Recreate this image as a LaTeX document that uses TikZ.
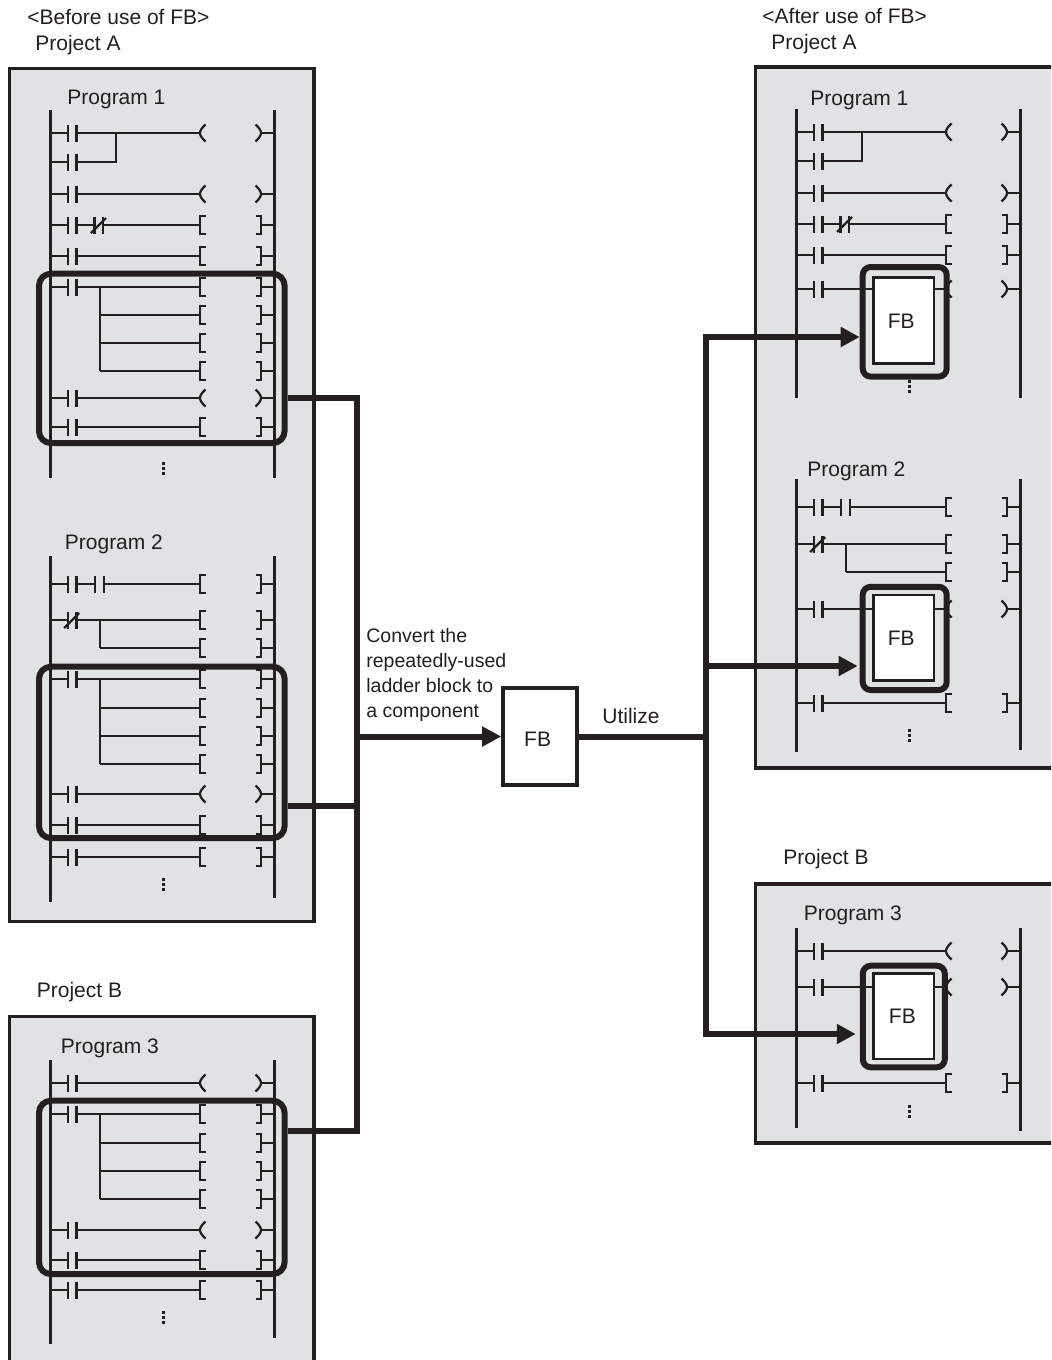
\documentclass[tikz,border=0pt]{standalone}
\usepackage{fontspec}
\setmainfont{Liberation Sans}
\usetikzlibrary{arrows.meta,positioning}
\definecolor{ink}{HTML}{231F20}
\definecolor{panelgray}{HTML}{E1E2E4}
\tikzset{
  rail/.style       = {line width=1.5pt, draw=ink},
  wire/.style       = {line width=1.1pt, draw=ink},
  moredots/.style   = {line width=1.5pt, draw=ink, dash pattern=on 1.5pt off 1pt},
  panel/.style      = {rectangle, draw=ink, fill=panelgray, line width=1.7pt,
                       inner sep=0pt, outer sep=0pt, anchor=north west},
  caption/.style    = {font=\fontsize{10.5}{12.65}\selectfont, text=ink, inner sep=0pt,
                       anchor=base west},
  ladderblock/.style= {rectangle, rounded corners=6pt, draw=ink, line width=3pt,
                       inner sep=0pt},
  fboutline/.style  = {rectangle, rounded corners=4pt, draw=ink, line width=3pt,
                       inner sep=0pt},
  fbinner/.style    = {rectangle, draw=ink, fill=white, line width=1.4pt, inner sep=0pt,
                       minimum width=30.4pt, font=\fontsize{10.5}{12.65}\selectfont,
                       text=ink},
  fbmain/.style     = {rectangle, draw=ink, fill=white, line width=1.8pt, inner sep=0pt,
                       minimum width=37pt, minimum height=48.5pt,
                       font=\fontsize{10.5}{12.65}\selectfont, text=ink},
  bus/.style        = {line width=3pt, draw=ink},
  busarrow/.style   = {bus, -{Triangle[length=9.5pt,width=9.5pt]}},
}
% ladder pieces, in px from the left rail
\newcommand{\railpair}[3]{\draw[rail] (0,#1) -- (0,#2); \draw[rail] (224,#1) -- (224,#3);}
\newcommand{\contactbars}[2]{%
  \draw[wire] (#1,#2-8.5) -- (#1,#2+8.5);
  \draw[wire] (#1+8.7,#2-8.5) -- (#1+8.7,#2+8.5);}
\newcommand{\ncslash}[2]{\draw[wire] (#1-3.5,#2+8) -- (#1+11.5,#2-7);}
\newcommand{\outcoil}[1]{%
  \draw[wire] (155,#1-8.5) .. controls (151,#1-5) and (149.5,#1-2) .. (149.5,#1)
              .. controls (149.5,#1+2) and (151,#1+5) .. (155,#1+8.5);
  \draw[wire] (205,#1-8.5) .. controls (209,#1-5) and (210.5,#1-2) .. (210.5,#1)
              .. controls (210.5,#1+2) and (209,#1+5) .. (205,#1+8.5);
  \draw[wire] (210.5,#1) -- (224,#1);}
\newcommand{\outbox}[1]{%
  \draw[wire] (155,#1-9) -- (149.5,#1-9) -- (149.5,#1+9) -- (155,#1+9);
  \draw[wire] (205,#1-9) -- (210.5,#1-9) -- (210.5,#1+9) -- (205,#1+9);
  \draw[wire] (210.5,#1) -- (224,#1);}
\newcommand{\frontwire}[1]{%
  \draw[wire] (0,#1) -- (17.2,#1);
  \contactbars{17.2}{#1}}
\newcommand{\coilrung}[1]{\frontwire{#1}\draw[wire] (25.9,#1) -- (149.5,#1);\outcoil{#1}}
\newcommand{\boxrung}[1]{\frontwire{#1}\draw[wire] (25.9,#1) -- (149.5,#1);\outbox{#1}}
\newcommand{\branchrung}[1]{\draw[wire] (49.8,#1) -- (149.5,#1);\outbox{#1}}
\newcommand{\repeatedrungs}[6]{%
  \boxrung{#1}\branchrung{#2}\branchrung{#3}\branchrung{#4}
  \draw[wire] (49.8,#1) -- (49.8,#4);
  \coilrung{#5}\boxrung{#6}}
\newcommand{\topbranch}[2]{% contact rung with a parallel contact under it
  \coilrung{#1}
  \frontwire{#2}
  \draw[wire] (25.9,#2) -- (65.5,#2) -- (65.5,#1);}
\newcommand{\ncrung}[1]{% series contact and n.c. contact
  \frontwire{#1}
  \draw[wire] (25.9,#1) -- (44,#1);
  \contactbars{44}{#1}
  \ncslash{44}{#1}
  \draw[wire] (52.7,#1) -- (149.5,#1);\outbox{#1}}
\newcommand{\serialrung}[1]{% two contacts in series
  \frontwire{#1}
  \draw[wire] (25.9,#1) -- (44.5,#1);
  \contactbars{44.5}{#1}
  \draw[wire] (53.2,#1) -- (149.5,#1);\outbox{#1}}
\newcommand{\ncbranch}[2]{% n.c. contact with one branch
  \frontwire{#1}\ncslash{17.2}{#1}
  \draw[wire] (25.9,#1) -- (149.5,#1);\outbox{#1}
  \branchrung{#2}
  \draw[wire] (49.8,#1) -- (49.8,#2);}
\newcommand{\moremark}[1]{\draw[moredots] (112.5,#1-6.5) -- (112.5,#1+6.5);}
\begin{document}
\begin{tikzpicture}[x=0.5pt,y=-0.5pt]
  \path[use as bounding box,clip] (0,0) rectangle (1051,1360);

  % panels
  \node[panel,minimum width=152.2pt,minimum height=426.5pt] (panelBeforeA) at (9.5,68.5) {};
  \node[panel,minimum width=152.2pt,minimum height=190pt]   (panelBeforeB) at (9.5,1016.5) {};
  \node[panel,minimum width=170pt,minimum height=350.5pt]   (panelAfterA)  at (755.5,67) {};
  \node[panel,minimum width=170pt,minimum height=129.5pt]   (panelAfterB)  at (755.5,884) {};

  % before use of FB
  \node[caption] (titleBefore)    at (27,25)   {<Before use of FB>};
  \node[caption] (projBeforeA)    at (35,50)   {Project A};
  \node[caption] (progBeforeOne)  at (67,104)  {Program 1};
  \node[caption] (progBeforeTwo)  at (64.5,549) {Program 2};
  \node[caption] (projBeforeB)    at (36.5,997) {Project B};
  \node[caption] (progBeforeThree) at (60.5,1053) {Program 3};

  \begin{scope}[shift={(50.5,0)}]
    \railpair{110}{478}{478}
    \topbranch{133}{162}
    \coilrung{194}
    \ncrung{225}
    \boxrung{256}
    \repeatedrungs{287}{315}{343}{371}{398}{427}
    \moremark{468}

    \railpair{556}{902}{898}
    \serialrung{584}
    \ncbranch{620}{648}
    \repeatedrungs{679}{708}{736}{764}{794}{825}
    \boxrung{857}
    \moremark{884}

    \railpair{1060}{1344}{1338}
    \coilrung{1083}
    \repeatedrungs{1114}{1143}{1171}{1199}{1230}{1260}
    \boxrung{1290}
    \moremark{1317}
  \end{scope}

  \node[ladderblock,minimum width=122.8pt,minimum height=84.7pt]  (blockOne)   at (161.8,358.4) {};
  \node[ladderblock,minimum width=122.8pt,minimum height=85.7pt]  (blockTwo)   at (161.8,752.4) {};
  \node[ladderblock,minimum width=122.8pt,minimum height=86.7pt]  (blockThree) at (161.8,1187.4) {};

  % after use of FB
  \node[caption] (titleAfter)    at (762,24)   {<After use of FB>};
  \node[caption] (projAfterA)    at (771,49)   {Project A};
  \node[caption] (progAfterOne)  at (810,105)  {Program 1};
  \node[caption] (progAfterTwo)  at (807,476)  {Program 2};
  \node[caption] (projAfterB)    at (783,864)  {Project B};
  \node[caption] (progAfterThree) at (803.5,920) {Program 3};

  \begin{scope}[shift={(796.5,0)}]
    \railpair{109}{398}{398}
    \topbranch{132}{161}
    \coilrung{193}
    \ncrung{224}
    \boxrung{255}
    \coilrung{289}
    \moremark{386}

    \railpair{479}{752}{750}
    \serialrung{507}
    \ncbranch{544}{572}
    \coilrung{609}
    \boxrung{703}
    \moremark{735}

    \railpair{928}{1128}{1131}
    \coilrung{951}
    \coilrung{987}
    \boxrung{1083}
    \moremark{1111}
  \end{scope}

  \node[fboutline,minimum width=42pt,minimum height=54.8pt] (outerOne)   at (904.7,321.8) {};
  \node[fboutline,minimum width=42pt,minimum height=51.6pt] (outerTwo)   at (904.7,638.4) {};
  \node[fboutline,minimum width=41pt,minimum height=50.8pt] (outerThree) at (903.8,1016.5) {};
  \node[fbinner,minimum height=43pt,
        label={[name=fbTextOne,text=ink,font=\fontsize{10.5}{12.65}\selectfont,xshift=-1.2pt]center:FB}]
        (fbOne) at (903.6,320.8) {};
  \node[fbinner,minimum height=42.8pt,
        label={[name=fbTextTwo,text=ink,font=\fontsize{10.5}{12.65}\selectfont,xshift=-1.2pt]center:FB}]
        (fbTwo) at (903.6,637.8) {};
  \node[fbinner,minimum height=42.8pt,
        label={[name=fbTextThree,text=ink,font=\fontsize{10.5}{12.65}\selectfont,xshift=-.6pt]center:FB}]
        (fbThree) at (903.6,1016.2) {};

  % centre
  \node[fbmain,label={[name=fbMainText,text=ink,font=\fontsize{10.5}{12.65}\selectfont,xshift=-1.2pt,yshift=-1.2pt]center:FB}]
        (fbMain) at (540,736.5) {};
  \node[caption,anchor=west,align=left,font=\fontsize{9.75}{12.65}\selectfont] (convertNote) at (366,675)
        {Convert the\\repeatedly-used\\ladder block to\\a component};
  \node[caption] (utilizeNote) at (602,723) {Utilize};

  \coordinate (joinOne)   at (357,398);
  \coordinate (joinTwo)   at (357,805.5);
  \coordinate (joinThree) at (357,1131);
  \coordinate (joinIn)    at (357,736.5);
  \coordinate (tapOne)    at (706,337);
  \coordinate (tapTwo)    at (706,666);
  \coordinate (tapThree)  at (706,1034);
  \coordinate (tapIn)     at (706,736.5);

  \draw[bus] (blockOne.east |- joinOne) -- (joinOne) -- (joinThree) -- (blockThree.east |- joinThree);
  \draw[bus] (blockTwo.east |- joinTwo) -- (joinTwo);
  \draw[busarrow] (joinIn) -- (fbMain.west);
  \draw[bus] (fbMain.east) -- (tapIn);
  \draw[bus,{Triangle[length=9.5pt,width=9.5pt]}-{Triangle[length=9.5pt,width=9.5pt]},shorten <=2pt]
        (outerThree.west |- tapThree) -- (tapThree) -- (tapOne) -- (outerOne.west |- tapOne);
  \draw[busarrow,shorten >=1pt] (tapTwo) -- (outerTwo.west |- tapTwo);
\end{tikzpicture}
\end{document}
